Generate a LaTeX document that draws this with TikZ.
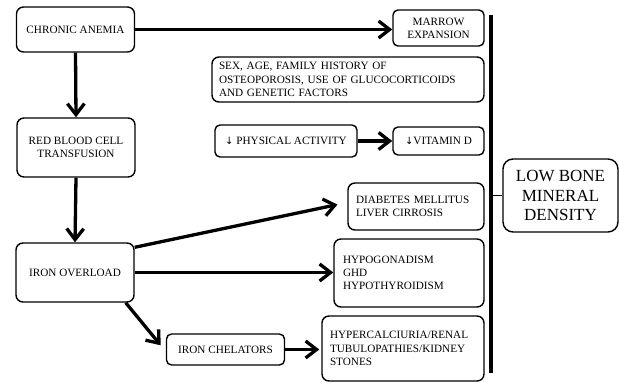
\documentclass[tikz,border=0pt]{standalone}
\usepackage{fontspec}
\setmainfont{Liberation Serif}
\newfontfamily\arr{DejaVu Sans}
\usetikzlibrary{arrows.meta}
\tikzset{
  box/.style={draw, line width=1.4pt, rounded corners=7pt, inner sep=0pt, font=\fontsize{11.2}{13.2}\selectfont, align=center},
  lbox/.style={box, align=left},
  conn/.style={line width=3.3pt, -{Straight Barb[length=11pt,width=17pt]}},
}
\begin{document}
\begin{tikzpicture}[x=1pt,y=-1pt]
\useasboundingbox (0,0) rectangle (619,383);
\node[box, minimum width=118pt, minimum height=45pt] (chronic) at (75.5,29.5) {CHRONIC ANEMIA};
\node[box, minimum width=118pt, minimum height=59pt] (rbc) at (76,147.5) {RED BLOOD CELL\\TRANSFUSION};
\node[box, minimum width=118pt, minimum height=59pt] (iron) at (75,272.5) {IRON OVERLOAD};
\node[box, rounded corners=5pt, minimum width=118pt, minimum height=31pt] (chel) at (225.5,349.5) {IRON CHELATORS};
\node[box, rounded corners=5pt, minimum width=91pt, minimum height=36pt] (marrow) at (438.5,28) {MARROW\\EXPANSION};
\node[lbox, minimum width=272pt, minimum height=45pt, text width=258pt] (sex) at (348,79.5) {SEX, AGE, FAMILY HISTORY OF\\OSTEOPOROSIS, USE OF GLUCOCORTICOIDS\\AND GENETIC FACTORS};
\node[box, rounded corners=5pt, minimum width=142pt, minimum height=32pt] (phys) at (286,141) {{\arr\fontsize{10}{12}\selectfont↓} PHYSICAL ACTIVITY};
\node[box, rounded corners=5pt, minimum width=91pt, minimum height=28pt] (vitd) at (438.5,141) {{\arr\fontsize{10}{12}\selectfont↓}VITAMIN D};
\node[lbox, minimum width=136pt, minimum height=47pt, text width=120pt] (diab) at (416,206.5) {DIABETES MELLITUS\\LIVER CIRROSIS};
\node[lbox, minimum width=150pt, minimum height=68pt, text width=132pt] (hypo) at (409,273) {HYPOGONADISM\\GHD\\HYPOTHYROIDISM};
\node[lbox, minimum width=162pt, minimum height=65pt, text width=146pt] (hyper) at (403,348.5) {HYPERCALCIURIA/RENAL\\TUBULOPATHIES/KIDNEY\\STONES};
\node[box, rounded corners=10pt, minimum width=115pt, minimum height=73pt, font=\fontsize{17}{19.5}\selectfont] (low) at (560.5,195.5) {LOW BONE\\MINERAL\\DENSITY};
\coordinate (bartop) at (491,15);
\coordinate (barbot) at (491,373);
\draw[line width=4pt] (bartop) -- (barbot);
\draw[line width=1pt] (low.west) -- (low.west -| bartop);
\draw[conn] (chronic.east) -- (chronic.east -| marrow.west);
\draw[conn] (chronic.south) -- (rbc.north);
\draw[conn] (rbc.south) -- (iron.north);
\draw[conn] (phys.east) -- (vitd.west);
\draw[conn, shorten >=10pt] ([yshift=-5pt]iron.north east) -- ([yshift=4pt]diab.west);
\draw[conn] (iron.east) -- (iron.east -| hypo.west);
\draw[conn, shorten >=8pt] ([xshift=-9pt]iron.south east) -- ([yshift=-2pt]chel.west);
\draw[conn, shorten >=2pt] (chel.east) -- (chel.east -| hyper.west);
\end{tikzpicture}
\end{document}
